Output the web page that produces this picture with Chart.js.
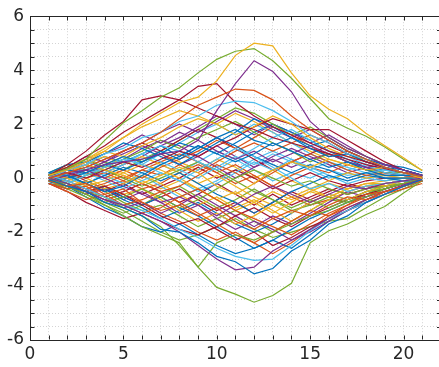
<!DOCTYPE html>
<html>
<head>
<meta charset="utf-8">
<title>Random paths</title>
<script src="https://cdn.jsdelivr.net/npm/chart.js@4.4.0/dist/chart.umd.min.js"></script>
<style>
  html, body { margin: 0; padding: 0; background: #fff; }
  canvas { display: block; }
</style>
</head>
<body>
<canvas id="chart" width="439" height="367"></canvas>
<script>
/* bundle of random paths pinned near 0 at both ends */
const xValues = [1, 2, 3, 4, 5, 6, 7, 8, 9, 10, 11, 12, 13, 14, 15, 16, 17, 18, 19, 20, 21];
const xTicks = [0, 1, 2, 3, 4, 5, 6, 7, 8, 9, 10, 11, 12, 13, 14, 15, 16, 17, 18, 19, 20, 21];
const xLabels = [0, 5, 10, 15, 20];
const yTicks = [-6, -5.5, -5, -4.5, -4, -3.5, -3, -2.5, -2, -1.5, -1, -0.5, 0, 0.5, 1, 1.5, 2, 2.5, 3, 3.5, 4, 4.5, 5, 5.5, 6];
const yLabels = [-6, -4, -2, 0, 2, 4, 6];

// the paths that stand out at the edges of the bundle
const blueLow = [-0.05, -0.3, -0.5, -0.9, -1.1, -1.4, -1.9, -2.0, -2.4, -2.9, -3.1, -3.55, -3.35, -2.7, -2.3, -1.7, -1.4, -0.9, -0.6, -0.3, -0.05];
const orangeHigh = [0.0, 0.2, 0.4, 0.7, 1.0, 1.3, 1.7, 2.2, 2.7, 3.0, 3.3, 3.25, 2.9, 2.3, 1.8, 1.4, 1.0, 0.7, 0.4, 0.2, 0.05];
const yellowTop = [0.1, 0.3, 0.6, 1.0, 1.5, 2.0, 2.4, 2.8, 3.0, 3.6, 4.55, 5.0, 4.9, 3.9, 3.05, 2.55, 2.2, 1.65, 1.2, 0.75, 0.28];
const purpleSpike = [0.0, 0.2, 0.3, 0.5, 0.6, 0.7, 0.9, 1.0, 1.4, 2.5, 3.5, 4.35, 3.95, 3.2, 2.1, 1.5, 1.1, 0.8, 0.5, 0.3, 0.1];
const greenTop = [0.1, 0.35, 0.7, 1.4, 2.05, 2.5, 3.0, 3.35, 3.9, 4.4, 4.7, 4.8, 4.35, 3.7, 2.95, 2.2, 1.85, 1.55, 1.15, 0.7, 0.28];
const cyanHigh = [0.0, 0.3, 0.5, 0.9, 1.1, 1.5, 1.7, 2.1, 2.3, 2.7, 2.85, 2.8, 2.5, 2.1, 1.6, 1.3, 0.9, 0.7, 0.4, 0.2, 0.05];
const redHigh = [0.1, 0.4, 0.8, 1.2, 1.7, 2.1, 2.5, 2.9, 3.4, 3.5, 2.8, 2.3, 1.9, 1.6, 1.3, 1.0, 0.8, 0.6, 0.4, 0.2, 0.05];
const purpleLow = [0.0, -0.2, -0.5, -0.8, -1.0, -1.3, -1.6, -2.0, -2.5, -3.0, -3.4, -3.3, -2.7, -2.3, -1.9, -1.5, -1.1, -0.8, -0.5, -0.25, -0.05];
const greenBottom = [0.0, -0.3, -0.6, -1.0, -1.4, -1.8, -2.1, -2.4, -3.3, -4.05, -4.3, -4.6, -4.35, -3.9, -2.4, -1.95, -1.7, -1.35, -1.05, -0.55, -0.1];
const cyanLow = [0.1, -0.1, -0.4, -0.7, -1.0, -1.2, -1.5, -1.9, -2.2, -2.6, -2.9, -3.05, -3.0, -2.5, -1.95, -1.5, -1.2, -0.9, -0.6, -0.3, -0.1];
const redEarly = [0.1, 0.5, 1.0, 1.6, 2.1, 2.9, 3.05, 2.9, 2.6, 2.3, 2.0, 1.8, 1.5, 1.3, 1.1, 0.9, 0.7, 0.5, 0.35, 0.2, 0.05];
const greenDip = [0.0, -0.2, -0.5, -0.7, -1.1, -1.4, -1.8, -2.5, -3.3, -2.4, -2.1, -2.3, -2.0, -1.7, -1.4, -1.2, -0.9, -0.7, -0.4, -0.2, 0.0];
const redLate = [0.1, 0.2, 0.0, 0.3, 0.6, 0.4, 0.7, 1.0, 0.8, 1.2, 1.5, 1.9, 2.2, 2.0, 1.8, 1.8, 1.4, 1.0, 0.6, 0.3, 0.1];

// the tangle in the middle
const walk01 = [0.1, 0.3, 0.2, 0.5, 0.8, 0.6, 0.9, 1.3, 1.1, 1.5, 1.8, 1.4, 1.2, 1.5, 1.1, 0.8, 0.9, 0.6, 0.4, 0.3, 0.1];
const walk02 = [-0.1, -0.3, -0.2, -0.6, -0.4, -0.9, -1.2, -1.0, -1.4, -1.1, -1.6, -1.9, -1.5, -1.2, -1.4, -1.0, -0.7, -0.8, -0.5, -0.3, -0.1];
const walk03 = [0.0, 0.2, 0.5, 0.3, 0.1, -0.2, 0.1, 0.4, 0.2, -0.3, -0.6, -0.2, 0.3, 0.6, 0.4, 0.7, 0.5, 0.3, 0.4, 0.2, 0.0];
const walk04 = [0.2, 0.1, -0.2, -0.5, -0.3, 0.1, 0.5, 0.8, 1.2, 0.9, 0.6, 0.9, 1.3, 1.0, 0.7, 0.4, 0.6, 0.3, 0.1, 0.1, 0.1];
const walk05 = [-0.2, -0.5, -0.8, -0.6, -1.0, -1.3, -1.1, -0.7, -0.4, -0.8, -1.2, -1.5, -1.8, -2.1, -1.7, -1.3, -1.0, -0.6, -0.5, -0.3, -0.1];
const walk06 = [0.1, 0.4, 0.7, 1.0, 0.8, 1.2, 1.5, 1.9, 2.2, 2.0, 1.6, 1.9, 2.3, 2.0, 1.5, 1.1, 0.8, 0.7, 0.4, 0.2, 0.0];
const walk07 = [-0.1, 0.1, 0.3, 0.0, -0.3, -0.6, -0.9, -0.7, -1.0, -1.4, -1.0, -0.6, -0.3, -0.6, -0.9, -0.6, -0.3, -0.4, -0.2, -0.1, 0.0];
const walk08 = [0.0, -0.2, 0.1, 0.4, 0.7, 0.5, 0.2, -0.1, 0.3, 0.7, 1.1, 0.8, 0.4, 0.0, -0.4, -0.2, -0.5, -0.3, -0.2, -0.1, 0.0];
const walk09 = [0.2, 0.5, 0.6, 0.9, 1.3, 1.1, 0.8, 0.5, 0.9, 1.3, 1.7, 2.2, 1.9, 1.5, 1.2, 1.4, 1.0, 0.7, 0.5, 0.4, 0.2];
const walk10 = [-0.2, -0.4, -0.3, -0.7, -1.0, -0.8, -0.5, -0.9, -1.3, -1.7, -2.1, -2.4, -2.0, -1.6, -1.2, -1.4, -1.1, -0.8, -0.6, -0.4, -0.2];
const walk11 = [0.1, 0.0, -0.3, -0.1, 0.2, 0.5, 0.3, 0.0, -0.4, -0.8, -0.5, -0.9, -1.3, -0.9, -0.5, -0.7, -0.4, -0.2, -0.3, -0.1, 0.0];
const walk12 = [0.0, 0.3, 0.6, 0.9, 1.2, 1.6, 1.3, 1.7, 1.4, 1.0, 0.7, 1.0, 0.6, 0.9, 1.2, 0.9, 0.6, 0.4, 0.5, 0.3, 0.1];
const walk13 = [-0.1, -0.3, -0.6, -0.9, -0.7, -0.4, -0.7, -1.1, -0.8, -0.4, 0.0, 0.3, 0.0, -0.3, -0.1, -0.4, -0.6, -0.4, -0.3, -0.2, -0.1];
const walk14 = [0.2, 0.1, 0.4, 0.2, 0.5, 0.9, 1.2, 1.0, 0.6, 0.3, 0.7, 1.1, 1.5, 1.8, 1.4, 1.0, 0.8, 0.5, 0.2, 0.1, 0.1];
const walk15 = [0.0, -0.3, -0.5, -0.3, -0.6, -1.0, -1.4, -1.7, -1.5, -1.9, -2.3, -2.0, -2.5, -2.2, -1.8, -1.5, -1.2, -0.9, -0.6, -0.3, -0.1];
const walk16 = [-0.2, 0.0, 0.2, 0.5, 0.3, 0.6, 1.0, 0.7, 1.1, 1.5, 1.2, 0.8, 0.5, 0.2, 0.5, 0.3, 0.0, 0.2, 0.0, -0.1, -0.1];
const walk17 = [0.1, -0.1, -0.4, -0.2, 0.1, -0.2, -0.5, -0.3, 0.1, 0.5, 0.2, -0.2, 0.2, 0.6, 0.9, 0.6, 0.3, 0.1, 0.2, 0.1, 0.0];
const walk18 = [0.0, 0.2, 0.0, -0.3, -0.6, -0.4, -0.8, -1.2, -1.6, -1.3, -1.7, -1.4, -1.0, -1.3, -0.9, -0.6, -0.8, -0.5, -0.3, -0.2, 0.0];
const walk19 = [0.1, 0.4, 0.8, 0.6, 1.0, 1.3, 1.7, 2.0, 1.7, 2.1, 2.5, 2.2, 1.8, 1.5, 1.8, 1.4, 1.0, 0.7, 0.5, 0.3, 0.1];
const walk20 = [-0.1, -0.2, 0.1, 0.3, 0.0, -0.3, 0.0, 0.3, 0.6, 0.3, -0.1, -0.5, -0.8, -1.1, -0.8, -1.1, -0.8, -0.5, -0.4, -0.2, -0.1];
const walk21 = [0.2, 0.3, 0.1, 0.3, 0.6, 0.9, 0.6, 0.3, 0.0, 0.4, 0.8, 0.5, 0.9, 0.6, 0.3, 0.6, 0.4, 0.2, 0.3, 0.1, 0.0];
const walk22 = [-0.2, -0.5, -0.9, -1.2, -1.5, -1.3, -1.6, -1.9, -2.1, -1.8, -1.4, -1.1, -1.5, -1.8, -1.4, -1.1, -0.8, -0.6, -0.4, -0.2, -0.1];
const walk23 = [0.0, 0.1, -0.2, 0.1, 0.4, 0.2, -0.1, 0.2, -0.2, -0.6, -0.9, -1.3, -0.9, -0.5, -0.2, 0.1, -0.1, 0.1, 0.0, 0.0, 0.0];
const walk24 = [0.1, 0.4, 0.2, 0.0, 0.3, 0.0, 0.4, 0.7, 1.0, 1.4, 1.1, 1.5, 1.9, 1.6, 1.2, 0.8, 1.0, 0.7, 0.4, 0.2, 0.1];
const walk25 = [-0.1, 0.2, 0.5, 0.8, 0.5, 0.8, 0.5, 0.2, -0.2, 0.1, -0.3, -0.7, -1.0, -0.7, -0.4, -0.1, 0.2, 0.0, 0.1, 0.0, 0.0];
const walk26 = [0.0, -0.2, -0.5, -0.8, -1.1, -0.9, -1.3, -1.0, -0.6, -1.0, -1.4, -1.8, -1.4, -1.7, -1.3, -0.9, -0.5, -0.7, -0.4, -0.2, -0.1];
const walk27 = [0.2, 0.4, 0.7, 0.4, 0.7, 1.0, 1.4, 1.1, 1.5, 1.8, 2.1, 1.7, 1.3, 1.0, 0.6, 0.9, 0.6, 0.3, 0.2, 0.2, 0.1];
const walk28 = [-0.2, -0.1, 0.2, -0.1, -0.4, -0.1, 0.2, -0.1, -0.5, -0.2, 0.2, 0.6, 0.3, 0.7, 0.4, 0.1, -0.2, 0.0, -0.1, 0.0, 0.0];
const walk29 = [0.0, 0.2, 0.4, 0.7, 1.0, 1.3, 1.0, 1.4, 1.8, 1.5, 1.1, 0.7, 0.3, 0.6, 0.9, 1.2, 0.9, 0.6, 0.4, 0.2, 0.1];
const walk30 = [0.1, -0.2, -0.5, -0.3, -0.7, -1.0, -0.7, -1.1, -1.4, -1.8, -2.2, -2.6, -2.3, -1.9, -1.5, -1.2, -0.9, -0.7, -0.4, -0.2, 0.0];
const walk31 = [-0.1, 0.1, 0.0, 0.2, -0.1, 0.3, 0.6, 0.9, 0.6, 0.2, 0.5, 0.1, -0.3, 0.1, 0.4, 0.2, 0.5, 0.3, 0.1, 0.1, 0.0];
const walk32 = [0.0, -0.3, -0.1, -0.4, -0.2, 0.1, -0.2, -0.6, -1.0, -0.7, -1.1, -0.8, -1.2, -1.6, -1.2, -0.8, -0.5, -0.3, -0.2, -0.1, 0.0];
const walk33 = [0.2, 0.0, 0.3, 0.6, 0.9, 1.2, 0.9, 0.5, 0.8, 0.4, 0.0, 0.4, 0.8, 1.1, 0.8, 0.5, 0.2, 0.4, 0.2, 0.1, 0.1];
const walk34 = [-0.1, -0.4, -0.7, -1.0, -1.3, -1.0, -0.6, -0.3, -0.7, -1.1, -0.8, -0.4, -0.8, -1.2, -1.0, -0.7, -0.9, -0.6, -0.3, -0.2, -0.1];
const walk35 = [0.1, 0.3, 0.6, 0.4, 0.8, 0.5, 0.9, 1.3, 1.7, 2.0, 1.6, 2.0, 1.7, 1.3, 0.9, 0.6, 0.3, 0.5, 0.3, 0.2, 0.0];
const walk36 = [0.0, 0.1, -0.2, -0.5, -0.2, -0.6, -0.3, 0.0, 0.4, 0.0, 0.3, 0.0, -0.4, -0.1, 0.2, -0.1, -0.3, -0.1, 0.0, 0.0, 0.0];
const walk37 = [-0.2, -0.4, -0.1, -0.4, -0.8, -1.1, -1.5, -1.2, -0.9, -1.3, -1.7, -2.0, -1.7, -1.3, -0.9, -0.6, -0.8, -0.5, -0.3, -0.1, -0.1];
const walk38 = [0.1, 0.3, 0.5, 0.3, 0.0, 0.3, 0.1, 0.5, 0.2, 0.6, 1.0, 1.3, 1.0, 1.3, 1.6, 1.3, 0.9, 0.6, 0.4, 0.2, 0.1];
const walk39 = [0.0, -0.1, 0.2, 0.5, 0.8, 0.6, 0.9, 0.6, 0.3, 0.7, 0.4, 0.0, 0.3, -0.1, -0.4, -0.7, -0.4, -0.2, -0.2, -0.1, 0.0];
const walk40 = [-0.1, -0.3, -0.6, -0.4, -0.8, -0.5, -0.9, -1.3, -1.0, -1.5, -1.9, -1.6, -1.9, -2.3, -2.0, -1.6, -1.2, -0.9, -0.6, -0.3, -0.1];
const walk41 = [0.2, 0.5, 0.3, 0.6, 0.3, 0.7, 1.0, 1.4, 1.8, 2.2, 2.6, 2.4, 2.0, 1.6, 1.9, 1.5, 1.1, 0.8, 0.5, 0.3, 0.1];
const walk42 = [-0.1, 0.0, 0.3, 0.1, -0.2, 0.1, -0.3, -0.7, -0.4, -0.1, 0.3, 0.7, 1.0, 0.7, 0.3, 0.0, 0.2, 0.0, 0.1, 0.0, 0.0];
const walk43 = [0.0, 0.2, -0.1, -0.4, -0.7, -1.0, -0.7, -0.4, -0.8, -1.2, -0.9, -1.3, -0.9, -0.5, -0.8, -0.5, -0.2, -0.4, -0.2, -0.1, 0.0];
const walk44 = [0.1, 0.2, 0.5, 0.8, 0.6, 0.9, 1.2, 0.8, 1.2, 0.9, 1.3, 1.7, 2.0, 1.7, 1.4, 1.0, 0.7, 0.4, 0.3, 0.2, 0.1];
const walk45 = [-0.2, -0.3, -0.6, -0.3, -0.1, -0.4, -0.2, 0.2, 0.5, 0.2, -0.2, 0.1, -0.3, -0.7, -1.0, -0.8, -0.5, -0.3, -0.3, -0.2, -0.1];
const walk46 = [0.0, 0.3, 0.1, 0.4, 0.2, -0.1, -0.4, -0.1, -0.4, -0.8, -1.2, -0.9, -0.5, -0.8, -0.5, -0.2, -0.4, -0.2, -0.1, 0.0, 0.0];
const walk47 = [0.1, -0.1, 0.2, 0.4, 0.7, 1.1, 1.4, 1.2, 0.8, 1.2, 0.8, 0.4, 0.7, 0.4, 0.7, 0.9, 0.6, 0.4, 0.2, 0.1, 0.0];
const walk48 = [-0.1, -0.4, -0.2, -0.5, -0.9, -1.2, -1.0, -1.4, -1.8, -1.5, -1.2, -1.6, -2.0, -1.6, -1.2, -0.8, -0.9, -0.6, -0.4, -0.2, -0.1];
const walk49 = [0.2, 0.0, -0.2, 0.1, -0.2, 0.2, 0.5, 0.2, 0.6, 1.0, 0.7, 0.3, -0.1, 0.2, 0.0, 0.3, 0.1, 0.2, 0.1, 0.1, 0.0];
const walk50 = [0.0, -0.2, -0.4, -0.7, -0.5, -0.2, -0.5, -0.9, -0.6, -0.2, -0.6, -1.0, -0.6, -1.0, -0.7, -0.4, -0.6, -0.4, -0.2, -0.1, 0.0];
const walk51 = [0.0, -0.3, -0.7, -1.1, -1.4, -1.8, -2.0, -1.7, -2.1, -2.5, -2.8, -2.6, -2.3, -2.6, -2.1, -1.6, -1.2, -0.8, -0.5, -0.3, -0.1];
const walk52 = [-0.1, -0.2, -0.5, -0.8, -0.6, -0.9, -1.3, -1.6, -2.0, -2.3, -2.0, -2.4, -2.8, -2.4, -1.9, -1.4, -1.0, -0.7, -0.5, -0.3, -0.1];
const walk53 = [0.1, 0.3, 0.7, 1.1, 1.5, 1.9, 2.2, 2.5, 2.3, 2.0, 2.4, 2.1, 1.7, 1.3, 1.0, 0.7, 0.5, 0.3, 0.2, 0.1, 0.0];
const walk54 = [0.0, 0.1, 0.4, 0.2, 0.5, 0.8, 1.2, 1.5, 1.9, 2.3, 2.0, 1.6, 2.0, 1.7, 1.3, 1.6, 1.2, 0.8, 0.5, 0.3, 0.1];
const walk55 = [-0.1, -0.3, -0.6, -0.9, -1.2, -1.6, -2.0, -2.3, -2.1, -1.8, -1.5, -1.9, -2.2, -2.0, -1.8, -1.6, -1.5, -1.1, -0.7, -0.4, -0.1];

// plotting order; colours come round in MATLAB's default order
const paths = [
  blueLow, orangeHigh, yellowTop, purpleSpike, greenTop, cyanHigh, redHigh,
  walk01, walk02, walk03, purpleLow, greenBottom, cyanLow, redEarly,
  walk04, walk05, walk06, walk07, greenDip, walk08, redLate,
  walk09, walk10, walk11, walk12, walk13, walk14, walk15,
  walk16, walk17, walk18, walk19, walk20, walk21, walk22,
  walk23, walk24, walk25, walk26, walk27, walk28, walk29,
  walk30, walk31, walk32, walk33, walk34, walk35, walk36,
  walk37, walk38, walk39, walk40, walk41, walk42, walk43,
  walk44, walk45, walk46, walk47, walk48, walk49, walk50,
  walk51, walk52, walk53, walk54, walk55,
];

const lineColors = ["#0072bd", "#d95319", "#edb120", "#7e2f8e", "#77ac30", "#4dbeee", "#a2142f"];
const axisColor = "#262626";
const gridColor = "#d4d4d4";
const tickFont = { family: "'DejaVu Sans', sans-serif", size: 17 };

(function () {
  const datasets = paths.map((ys, i) => ({
    data: ys.map((y, j) => ({ x: xValues[j], y })),
    borderColor: lineColors[i % lineColors.length],
    borderWidth: 1.2,
    pointRadius: 0,
    tension: 0,
    fill: false,
  }));

  // MATLAB-style box: top edge plus inward tick marks on all four sides
  const boxPlugin = {
    id: "box",
    afterDraw(chart) {
      const { ctx, chartArea: a, scales } = chart;
      const top = Math.round(a.top) + 0.5;
      const bottom = Math.round(a.bottom) - 0.5;
      const left = Math.round(a.left) + 0.5;
      ctx.save();
      ctx.strokeStyle = axisColor;
      ctx.lineWidth = 1;
      ctx.beginPath();
      ctx.moveTo(a.left, top);
      ctx.lineTo(a.right, top);
      scales.x.ticks.forEach((t) => {
        const px = Math.round(scales.x.getPixelForValue(t.value)) + 0.5;
        ctx.moveTo(px, bottom);
        ctx.lineTo(px, bottom - 4);
        ctx.moveTo(px, top);
        ctx.lineTo(px, top + 4);
      });
      scales.y.ticks.forEach((t) => {
        const py = Math.round(scales.y.getPixelForValue(t.value)) + 0.5;
        ctx.moveTo(left, py);
        ctx.lineTo(left + 4, py);
        ctx.moveTo(a.right, py);
        ctx.lineTo(a.right - 2, py);
      });
      ctx.stroke();
      ctx.restore();
    },
  };

  new Chart(document.getElementById("chart"), {
    type: "line",
    data: { datasets },
    plugins: [boxPlugin],
    options: {
      responsive: false,
      animation: false,
      devicePixelRatio: 1,
      layout: { padding: { top: 15, right: 0, bottom: 0, left: 0 } },
      plugins: { legend: { display: false }, tooltip: { enabled: false } },
      scales: {
        x: {
          type: "linear",
          min: 0,
          max: 21.9,
          afterBuildTicks: (scale) => {
            scale.ticks = xTicks.map((v) => ({ value: v }));
          },
          afterFit: (scale) => {
            scale.height = 27;
          },
          ticks: {
            autoSkip: false,
            maxRotation: 0,
            padding: 4,
            color: axisColor,
            font: tickFont,
            callback: (v) => (xLabels.includes(v) ? String(v) : ""),
          },
          grid: { color: gridColor, lineWidth: 1, drawTicks: false },
          border: { color: axisColor, width: 1, dash: [1, 2] },
        },
        y: {
          min: -6,
          max: 6,
          afterBuildTicks: (scale) => {
            scale.ticks = yTicks.map((v) => ({ value: v }));
          },
          afterFit: (scale) => {
            scale.width = 30;
          },
          ticks: {
            autoSkip: false,
            padding: 6,
            color: axisColor,
            font: tickFont,
            callback: (v) => (yLabels.includes(v) ? String(v) : ""),
          },
          grid: { color: gridColor, lineWidth: 1, drawTicks: false },
          border: { color: axisColor, width: 1, dash: [1, 2] },
        },
      },
    },
  });
})();
</script>
</body>
</html>
